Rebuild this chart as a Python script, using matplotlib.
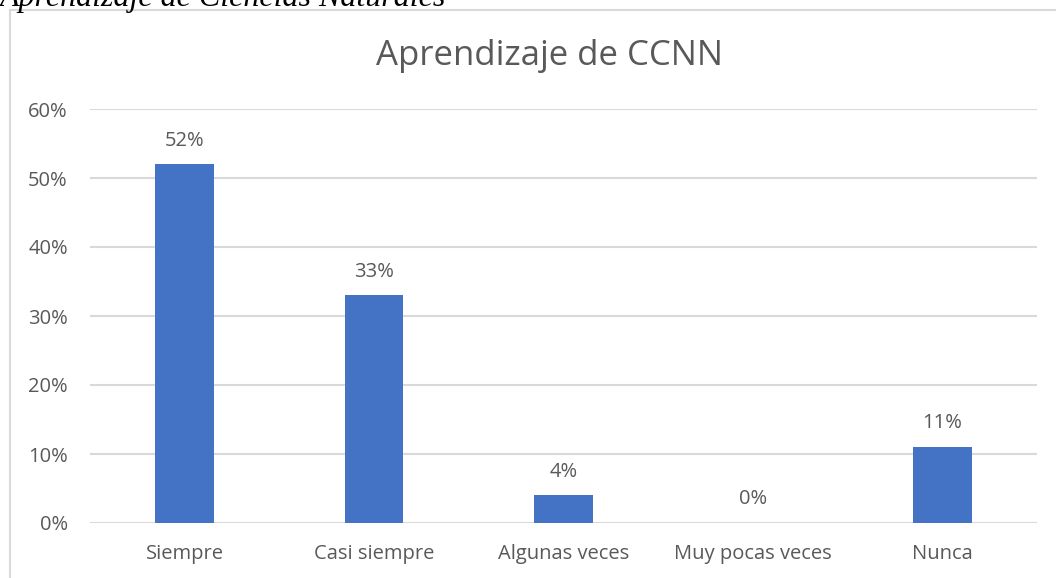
import matplotlib.pyplot as plt
from matplotlib.patches import Rectangle

categorias = ["Siempre", "Casi siempre", "Algunas veces", "Muy pocas veces", "Nunca"]
valores = [52, 33, 4, 0, 11]
ticks = [0, 10, 20, 30, 40, 50, 60]

gris = "#595959"
linea = "#D9D9D9"
azul = "#4472C4"

plt.rcParams['font.family'] = ['Open Sans', 'DejaVu Sans']

fig = plt.figure(figsize=(10.56, 5.78), dpi=100)
W, H = 1056, 578

# chart frame (runs off the right and bottom edge)
fig.patches.append(Rectangle((10 / W, -0.05), 1.2, (H - 10) / H + 0.05,
                             transform=fig.transFigure, fill=False,
                             edgecolor=linea, linewidth=1.5))

# caption cut off at the top, as in the original document
fig.text(0 / W, 1 - 6 / H, "Aprendizaje de Ciencias Naturales", family="Liberation Serif",
         style="italic", fontsize=23, color="black", ha="left", va="baseline")

# chart title, centred on the chart frame
fig.text(550 / W, 1 - 56 / H, "Aprendizaje de CCNN", fontsize=25, color=gris,
         ha="center", va="center")

ax = fig.add_axes([90 / W, (H - 523) / H, 947 / W, 414 / H])
x = range(len(categorias))
ax.bar(x, valores, width=0.31, color=azul, zorder=3)
ax.set_xlim(-0.5, len(categorias) - 0.5)
ax.set_ylim(0, 60)
ax.set_yticks(ticks)
ax.set_yticklabels([f"{t}%" for t in ticks])
ax.set_xticks(list(x))
ax.set_xticklabels(categorias)
ax.tick_params(axis="y", length=0, pad=16, labelsize=14.5, labelcolor=gris)
ax.tick_params(axis="x", length=0, pad=15, labelsize=14.5, labelcolor=gris)
ax.grid(axis="y", color=linea, linewidth=1.5, zorder=0)
for s in ax.spines.values():
    s.set_visible(False)

for i, v in enumerate(valores):
    ax.annotate(f"{v}%", (i, v), xytext=(0, 17), textcoords="offset points",
                ha="center", va="center", fontsize=14.5, color=gris)

fig.savefig("out.png", dpi=100)
